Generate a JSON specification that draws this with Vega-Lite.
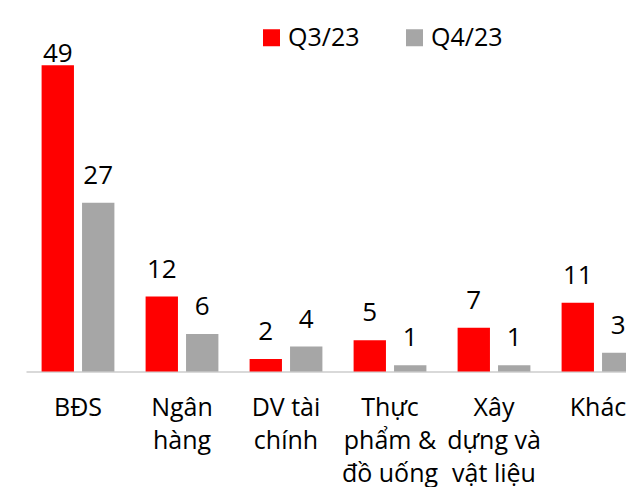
{
  "$schema": "https://vega.github.io/schema/vega-lite/v6.json",
  "autosize": {"type": "none"},
  "width": 600,
  "height": 350,
  "padding": {"left": 26, "top": 21.5, "right": 0, "bottom": 115.5},
  "background": "white",
  "config": {
    "view": {"stroke": null},
    "font": "Open Sans"
  },
  "data": {
    "values": [
      {"category": "BĐS", "series": "Q3/23", "value": 49},
      {"category": "BĐS", "series": "Q4/23", "value": 27},
      {"category": "Ngân hàng", "series": "Q3/23", "value": 12},
      {"category": "Ngân hàng", "series": "Q4/23", "value": 6},
      {"category": "DV tài chính", "series": "Q3/23", "value": 2},
      {"category": "DV tài chính", "series": "Q4/23", "value": 4},
      {"category": "Thực phẩm & đồ uống", "series": "Q3/23", "value": 5},
      {"category": "Thực phẩm & đồ uống", "series": "Q4/23", "value": 1},
      {"category": "Xây dựng và vật liệu", "series": "Q3/23", "value": 7},
      {"category": "Xây dựng và vật liệu", "series": "Q4/23", "value": 1},
      {"category": "Khác", "series": "Q3/23", "value": 11},
      {"category": "Khác", "series": "Q4/23", "value": 3}
    ]
  },
  "encoding": {
    "x": {
      "field": "category",
      "type": "nominal",
      "sort": ["BĐS", "Ngân hàng", "DV tài chính", "Thực phẩm & đồ uống", "Xây dựng và vật liệu", "Khác"],
      "scale": {"range": [0, 624], "paddingInner": 0.3, "paddingOuter": 0.15},
      "axis": {
        "title": null,
        "domainColor": "#D9D9D9",
        "domainWidth": 2,
        "ticks": false,
        "grid": false,
        "labelAngle": 0,
        "labelFont": "Open Sans",
        "labelFontSize": 25,
        "labelColor": "#000000",
        "labelPadding": 24,
        "labelBaseline": "top",
        "labelLineHeight": 33,
        "labelOverlap": false,
        "labelBound": false,
        "labelFlush": false,
        "labelExpr": "datum.label == 'Ngân hàng' ? ['Ngân','hàng'] : datum.label == 'DV tài chính' ? ['DV tài','chính'] : datum.label == 'Thực phẩm & đồ uống' ? ['Thực','phẩm &','đồ uống'] : datum.label == 'Xây dựng và vật liệu' ? ['Xây','dựng và','vật liệu'] : datum.label"
      }
    },
    "xOffset": {
      "field": "series",
      "type": "nominal",
      "sort": ["Q3/23", "Q4/23"],
      "scale": {"paddingInner": 0.2, "paddingOuter": 0}
    }
  },
  "layer": [
    {
      "mark": {"type": "bar"},
      "encoding": {
        "y": {
          "field": "value",
          "type": "quantitative",
          "scale": {"domain": [0, 56], "nice": false},
          "axis": null
        },
        "color": {
          "field": "series",
          "type": "nominal",
          "sort": ["Q3/23", "Q4/23"],
          "scale": {"domain": ["Q3/23", "Q4/23"], "range": ["#FF0000", "#A6A6A6"]},
          "legend": {
            "title": null,
            "orient": "none",
            "direction": "horizontal",
            "legendX": 233,
            "legendY": 3.5,
            "padding": 0,
            "symbolType": "square",
            "symbolSize": 289,
            "symbolStrokeWidth": 0,
            "labelFont": "Open Sans",
            "labelFontSize": 25,
            "labelColor": "#000000",
            "labelOffset": 4,
            "columnPadding": 42
          }
        }
      }
    },
    {
      "mark": {"type": "text", "baseline": "alphabetic", "dy": -19, "font": "Open Sans", "fontSize": 26, "color": "#000000"},
      "encoding": {
        "y": {
          "field": "value",
          "type": "quantitative",
          "scale": {"domain": [0, 46.5], "range": [350, 59.375], "clamp": true, "nice": false, "zero": true},
          "axis": null
        },
        "text": {"field": "value", "type": "quantitative"}
      }
    }
  ],
  "resolve": {"scale": {"y": "independent"}}
}
